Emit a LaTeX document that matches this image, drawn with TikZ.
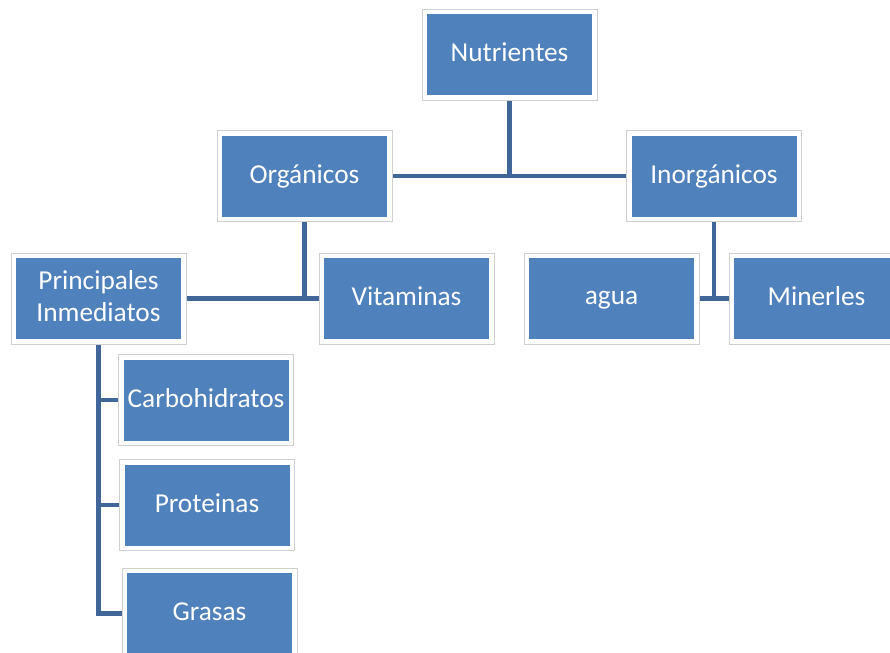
\documentclass[tikz,border=0pt]{standalone}
\usepackage{fontspec}
\setmainfont{Carlito}
\definecolor{boxblue}{HTML}{4F81BD}
\definecolor{linkblue}{HTML}{41679A}
\definecolor{framegray}{HTML}{D0D0D0}
\tikzset{
  outerbox/.style={draw=framegray, line width=0.6pt, fill=white, minimum width=131.25pt, minimum height=68.25pt, inner sep=0pt},
  innerbox/.style={fill=boxblue, text=white, minimum width=123.75pt, minimum height=60.75pt, inner sep=0pt, align=center, font=\fontsize{20.5}{24}\selectfont},
  conn/.style={draw=linkblue, line width=3.2pt}
}
\newcommand{\mystrut}{\rule[-3.5pt]{0pt}{16pt}}
\newcommand{\mybx}[4]{%
  \node[outerbox] (#1-o) at (#2,#3) {};
  \node[innerbox] (#1) at (#2,#3) {\mystrut#4\mystrut};
}
\begin{document}
\begin{tikzpicture}[x=0.75pt,y=-0.75pt]
\useasboundingbox (0,0) rectangle (890,653);
\clip (0,0) rectangle (890,653);
% connectors first (behind boxes)
\coordinate (nutc) at (509.5,54.5);
\coordinate (orgc) at (304.5,176);
\coordinate (inoc) at (714,176);
\coordinate (pic) at (98.5,298.5);
\coordinate (carc) at (206,400);
\coordinate (proc) at (207,505);
\coordinate (grac) at (209.5,613.5);
\coordinate (vitc) at (406.5,298.5);
\coordinate (aguc) at (611.5,298.5);
\coordinate (minc) at (816.5,298.5);
\draw[conn] (nutc) -- (nutc |- orgc);
\draw[conn] (orgc) -- (inoc);
\draw[conn] (orgc) -- (orgc |- pic);
\draw[conn] (pic) -- (vitc);
\draw[conn] (inoc) -- (inoc |- aguc);
\draw[conn] (aguc) -- (minc);
\draw[conn] (pic) |- (grac);
\draw[conn] (pic |- carc) -- (carc);
\draw[conn] (pic |- proc) -- (proc);
% boxes
\mybx{nut}{509.5}{54.5}{Nutrientes}
\mybx{org}{304.5}{176}{Orgánicos}
\mybx{ino}{714}{176}{Inorgánicos}
\mybx{pi}{98.5}{298.5}{Principales\\Inmediatos}
\mybx{vit}{406.5}{298.5}{Vitaminas}
\mybx{agu}{611.5}{298.5}{agua}
\mybx{min}{816.5}{298.5}{Minerles}
\mybx{car}{206}{400}{Carbohidratos}
\mybx{pro}{207}{505}{Proteinas}
\mybx{gra}{209.5}{613.5}{Grasas}
\end{tikzpicture}
\end{document}
